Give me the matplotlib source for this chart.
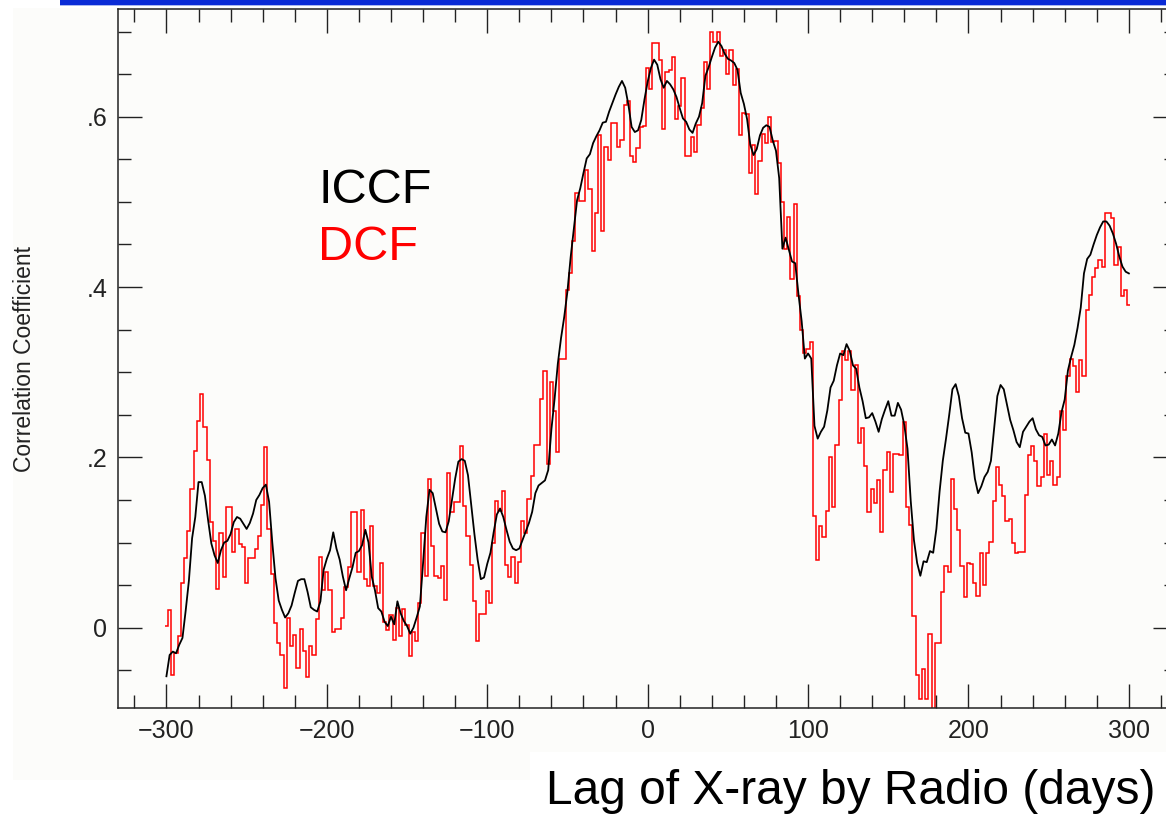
import matplotlib
matplotlib.use("Agg")
import matplotlib.pyplot as plt
import numpy as np
from matplotlib.patches import Rectangle
from matplotlib.ticker import MultipleLocator

# lag grid (days), 2-day bins
lag = np.arange(-300, 301, 2)

# ICCF values
iccf = [
    -0.057, -0.032, -0.028, -0.030, -0.020, -0.012, 0.020, 0.055, 0.105, 0.130,   # -300
    0.171, 0.171, 0.155, 0.126, 0.099, 0.085, 0.076, 0.091, 0.100, 0.102,         # -280
    0.110, 0.124, 0.130, 0.128, 0.122, 0.116, 0.123, 0.134, 0.150, 0.156,         # -260
    0.164, 0.168, 0.148, 0.100, 0.058, 0.032, 0.021, 0.012, 0.017, 0.026,         # -240
    0.041, 0.055, 0.057, 0.057, 0.042, 0.024, 0.021, 0.019, 0.031, 0.068,         # -220
    0.081, 0.091, 0.112, 0.093, 0.080, 0.060, 0.044, 0.058, 0.071, 0.088,         # -200
    0.090, 0.097, 0.115, 0.100, 0.060, 0.044, 0.023, 0.019, 0.007, 0.002,         # -180
    0.013, 0.004, 0.031, 0.017, 0.008, 0.002, -0.007, 0.000, 0.012, 0.025,        # -160
    0.076, 0.130, 0.162, 0.158, 0.140, 0.122, 0.113, 0.112, 0.125, 0.150,         # -140
    0.175, 0.195, 0.198, 0.196, 0.179, 0.145, 0.110, 0.080, 0.057, 0.059,         # -120
    0.075, 0.088, 0.112, 0.133, 0.140, 0.130, 0.115, 0.101, 0.093, 0.091,         # -100
    0.093, 0.103, 0.113, 0.123, 0.136, 0.158, 0.167, 0.170, 0.173, 0.185,         # -80
    0.233, 0.269, 0.310, 0.340, 0.365, 0.395, 0.435, 0.468, 0.502, 0.516,         # -60
    0.534, 0.551, 0.556, 0.569, 0.577, 0.584, 0.593, 0.594, 0.606, 0.616,         # -40
    0.626, 0.635, 0.642, 0.634, 0.614, 0.588, 0.582, 0.584, 0.596, 0.620,         # -20
    0.641, 0.657, 0.667, 0.661, 0.644, 0.634, 0.642, 0.638, 0.632, 0.623,         # 0
    0.610, 0.598, 0.594, 0.585, 0.581, 0.592, 0.600, 0.616, 0.648, 0.658,         # 20
    0.670, 0.681, 0.688, 0.683, 0.674, 0.668, 0.666, 0.663, 0.655, 0.628,         # 40
    0.615, 0.597, 0.567, 0.555, 0.562, 0.578, 0.587, 0.590, 0.588, 0.572,         # 60
    0.560, 0.528, 0.445, 0.458, 0.444, 0.430, 0.428, 0.392, 0.360, 0.316,         # 80
    0.322, 0.316, 0.237, 0.222, 0.230, 0.236, 0.255, 0.282, 0.290, 0.308,         # 100
    0.322, 0.320, 0.333, 0.325, 0.308, 0.304, 0.282, 0.266, 0.246, 0.247,         # 120
    0.252, 0.242, 0.230, 0.245, 0.256, 0.266, 0.249, 0.249, 0.264, 0.256,         # 140
    0.238, 0.210, 0.149, 0.103, 0.076, 0.061, 0.078, 0.077, 0.090, 0.088,         # 160
    0.116, 0.160, 0.196, 0.222, 0.250, 0.280, 0.286, 0.272, 0.246, 0.229,         # 180
    0.228, 0.206, 0.175, 0.158, 0.166, 0.177, 0.183, 0.196, 0.234, 0.272,         # 200
    0.285, 0.280, 0.262, 0.244, 0.232, 0.218, 0.212, 0.230, 0.236, 0.242,         # 220
    0.246, 0.233, 0.226, 0.224, 0.214, 0.215, 0.221, 0.214, 0.228, 0.253,         # 240
    0.268, 0.302, 0.318, 0.332, 0.352, 0.376, 0.416, 0.433, 0.438, 0.450,         # 260
    0.461, 0.470, 0.477, 0.477, 0.472, 0.463, 0.451, 0.436, 0.424, 0.418,         # 280
    0.416,                                                                        # 300
]

# DCF values (one per 2-day bin)
dcf = [
    0.002, 0.021, -0.056, -0.030, -0.010, 0.052, 0.082, 0.114, 0.163, 0.208,      # -300
    0.243, 0.275, 0.236, 0.197, 0.124, 0.102, 0.045, 0.111, 0.060, 0.142,         # -280
    0.142, 0.089, 0.116, 0.098, 0.095, 0.052, 0.082, 0.082, 0.093, 0.108,         # -260
    0.144, 0.212, 0.116, 0.063, 0.005, -0.018, -0.032, -0.071, 0.011, -0.021,     # -240
    -0.009, -0.047, -0.001, -0.027, -0.058, -0.021, -0.032, 0.010, 0.083, 0.044,  # -220
    0.066, 0.044, -0.005, -0.001, -0.001, 0.012, 0.048, 0.071, 0.136, 0.136,      # -200
    0.065, 0.138, 0.057, 0.049, 0.119, 0.049, 0.041, 0.076, 0.007, -0.003,        # -180
    0.015, -0.014, 0.023, -0.010, 0.022, 0.003, -0.033, -0.005, -0.016, 0.029,    # -160
    0.111, 0.061, 0.175, 0.096, 0.061, 0.058, 0.072, 0.032, 0.182, 0.136,         # -140
    0.148, 0.148, 0.213, 0.143, 0.108, 0.074, 0.031, -0.015, 0.016, 0.016,        # -120
    0.043, 0.029, 0.100, 0.149, 0.137, 0.161, 0.074, 0.059, 0.083, 0.052,         # -100
    0.077, 0.125, 0.111, 0.151, 0.178, 0.214, 0.214, 0.269, 0.301, 0.192,         # -80
    0.289, 0.255, 0.206, 0.316, 0.316, 0.396, 0.416, 0.454, 0.510, 0.501,         # -60
    0.501, 0.538, 0.515, 0.442, 0.487, 0.579, 0.466, 0.565, 0.549, 0.593,         # -40
    0.593, 0.564, 0.573, 0.614, 0.618, 0.554, 0.547, 0.563, 0.588, 0.589,         # -20
    0.657, 0.632, 0.686, 0.686, 0.667, 0.585, 0.652, 0.655, 0.670, 0.597,         # 0
    0.613, 0.645, 0.554, 0.554, 0.576, 0.559, 0.590, 0.610, 0.664, 0.632,         # 20
    0.699, 0.688, 0.699, 0.671, 0.678, 0.650, 0.678, 0.637, 0.656, 0.579,         # 40
    0.604, 0.603, 0.534, 0.567, 0.509, 0.548, 0.580, 0.569, 0.600, 0.570,         # 60
    0.571, 0.546, 0.500, 0.445, 0.482, 0.409, 0.497, 0.389, 0.350, 0.323,         # 80
    0.327, 0.335, 0.131, 0.079, 0.119, 0.107, 0.137, 0.201, 0.142, 0.214,         # 100
    0.267, 0.325, 0.314, 0.325, 0.279, 0.309, 0.217, 0.235, 0.190, 0.136,         # 120
    0.163, 0.146, 0.174, 0.112, 0.185, 0.206, 0.159, 0.204, 0.204, 0.203,         # 140
    0.242, 0.142, 0.121, 0.014, -0.055, -0.084, -0.048, -0.084, -0.007, -0.120,   # 160
    -0.018, -0.018, 0.042, 0.072, 0.065, 0.175, 0.139, 0.115, 0.072, 0.036,       # 180
    0.076, 0.075, 0.052, 0.037, 0.088, 0.050, 0.088, 0.101, 0.149, 0.189,         # 200
    0.168, 0.155, 0.125, 0.128, 0.100, 0.088, 0.089, 0.089, 0.156, 0.203,         # 220
    0.213, 0.196, 0.166, 0.177, 0.228, 0.179, 0.196, 0.168, 0.177, 0.254,         # 240
    0.232, 0.295, 0.316, 0.307, 0.277, 0.314, 0.295, 0.373, 0.391, 0.412,         # 260
    0.422, 0.432, 0.424, 0.487, 0.487, 0.481, 0.426, 0.447, 0.389, 0.397,         # 280
    0.379,                                                                        # 300
]

ytick_values = [0, 0.2, 0.4, 0.6]
ytick_labels = ["0", ".2", ".4", ".6"]

W, H = 1166, 816
BG = "#fcfcfa"
INK = "#222222"

plt.rcParams["font.family"] = ["Liberation Sans", "DejaVu Sans"]

fig = plt.figure(figsize=(W / 100, H / 100), dpi=100)
fig.patch.set_facecolor("white")

# slide backdrop pieces
fig.add_artist(Rectangle((13 / W, 1 - 780 / H), 1, 772 / H, transform=fig.transFigure,
                         facecolor=BG, edgecolor="none", zorder=0))
fig.add_artist(Rectangle((60 / W, 1 - 4.5 / H), 1, 4.5 / H, transform=fig.transFigure,
                         facecolor="#0a2bd6", edgecolor="none", zorder=5))
fig.add_artist(Rectangle((60 / W, 1 - 6 / H), 1, 1.5 / H, transform=fig.transFigure,
                         facecolor="#aab8f0", edgecolor="none", zorder=5))

ax = fig.add_axes([118.3 / W, 1 - 708.3 / H, (1177 - 118.3) / W, (708.3 - 9.3) / H])
ax.set_facecolor(BG)

edges = np.append(lag - 1, lag[-1] + 1)
ax.stairs(dcf, edges, baseline=None, color="#ff0000", linewidth=1.1)
ax.plot(lag, iccf, color="black", linewidth=1.3)

ax.set_xlim(-330, 330)
ax.set_ylim(-0.0946, 0.7261)
ax.xaxis.set_major_locator(MultipleLocator(100))
ax.xaxis.set_minor_locator(MultipleLocator(20))
ax.set_yticks(ytick_values)
ax.set_yticklabels(ytick_labels)
ax.yaxis.set_minor_locator(MultipleLocator(0.05))

ax.tick_params(which="both", direction="in", top=True, right=True,
               color=INK, labelcolor=INK, width=1.0)
ax.tick_params(which="major", length=17.5, labelsize=18)
ax.tick_params(which="minor", length=9.5)
ax.tick_params(axis="x", pad=7.5)
ax.tick_params(axis="y", pad=8)
for s in ax.spines.values():
    s.set_color(INK)
    s.set_linewidth(1.1)

ax.text(-205.5, 0.499, "ICCF", fontsize=35, color="black", va="baseline")
ax.text(-205.5, 0.432, "DCF", fontsize=35, color="#ff0000", va="baseline")

fig.text(25 / W, 1 - 359 / H, "Correlation Coefficient", rotation=90,
         fontsize=16.5, ha="center", va="center", color=INK)

fig.add_artist(Rectangle((530 / W, 0), 1, 64 / H, transform=fig.transFigure,
                         facecolor="white", edgecolor="none", zorder=3))
fig.text(546 / W, 1 - 804 / H, "Lag of X-ray by Radio (days)", fontsize=34.5,
         ha="left", va="baseline", color="black", zorder=4)

fig.savefig("out.png", dpi=100, facecolor=fig.get_facecolor())
